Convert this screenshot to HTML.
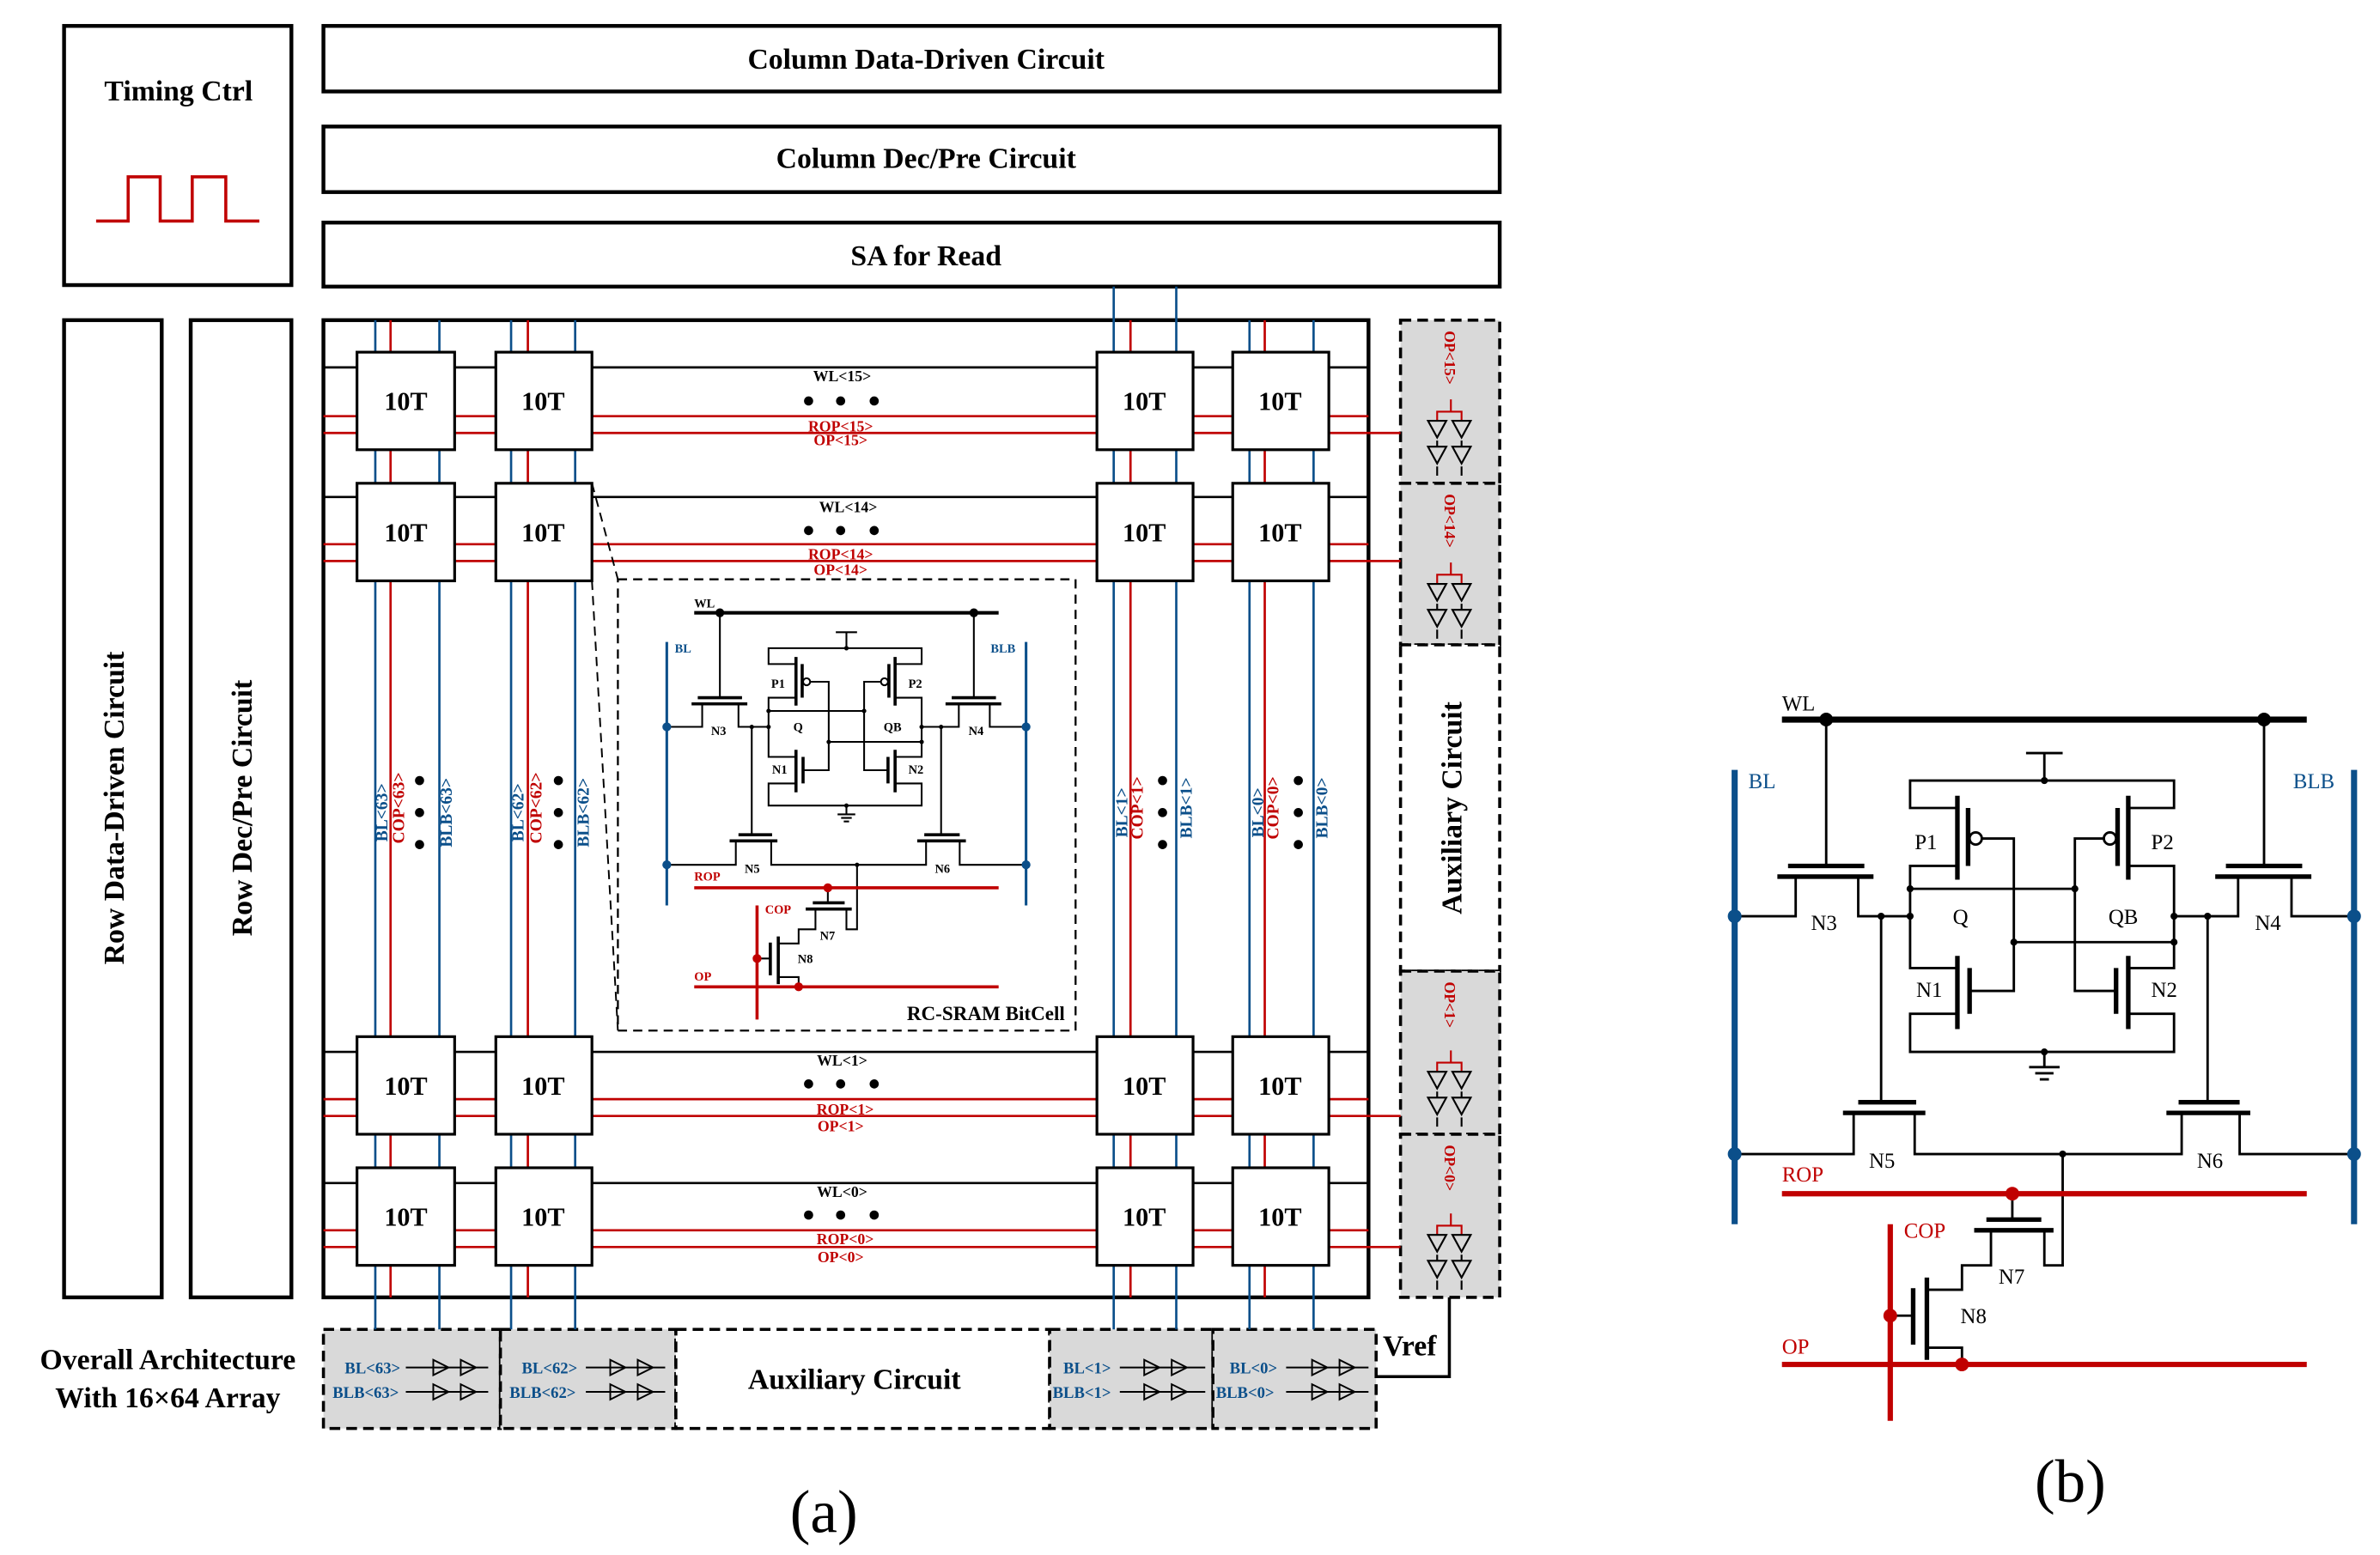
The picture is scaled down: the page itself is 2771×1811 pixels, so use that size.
<!DOCTYPE html>
<html><head><meta charset="utf-8"><style>
html,body{margin:0;padding:0;background:#fff}
svg{display:block}
text{font-family:"Liberation Serif",serif}
.b{font-weight:bold}
</style></head><body>
<svg width="2771" height="1811" viewBox="0 0 1560 1020" preserveAspectRatio="none" xmlns="http://www.w3.org/2000/svg">
<g fill="none" stroke="#000" stroke-width="2.5">
<rect x="42" y="17" width="149" height="170" fill="#fff"/>
<rect x="212" y="17" width="771" height="43"/>
<rect x="212" y="83" width="771" height="43"/>
<rect x="212" y="146" width="771" height="42"/>
<rect x="42" y="210" width="64" height="641"/>
<rect x="125" y="210" width="66" height="641"/>
<rect x="212" y="210" width="685" height="641"/>
</g>
<path d="M63 145 H84 V116 H105 V145 H126 V116 H148 V145 H170" fill="none" stroke="#c00000" stroke-width="2"/>
<path d="M902 903 H950 V851" fill="none" stroke="#000" stroke-width="2"/>

<!-- aux boxes -->
<g stroke="#000" stroke-width="2" stroke-dasharray="7,4">
<rect x="918" y="210" width="65" height="107" fill="#d9d9d9"/>
<rect x="918" y="317" width="65" height="106" fill="#d9d9d9"/>
<rect x="918" y="423" width="65" height="214" fill="#fff"/>
<rect x="918" y="637" width="65" height="107" fill="#d9d9d9"/>
<rect x="918" y="744" width="65" height="107" fill="#d9d9d9"/>
<rect x="212" y="872" width="116" height="65" fill="#d9d9d9"/>
<rect x="328" y="872" width="115" height="65" fill="#d9d9d9"/>
<rect x="443" y="872" width="245" height="65" fill="#fff"/>
<rect x="688" y="872" width="107" height="65" fill="#d9d9d9"/>
<rect x="795" y="872" width="107" height="65" fill="#d9d9d9"/>
</g>

<g class="b" font-size="19" text-anchor="middle">
<text x="117" y="66">Timing Ctrl</text>
<text x="607" y="45">Column Data-Driven Circuit</text>
<text x="607" y="110">Column Dec/Pre Circuit</text>
<text x="607" y="174">SA for Read</text>
<text transform="translate(81,530) rotate(-90)">Row Data-Driven Circuit</text>
<text transform="translate(165,530) rotate(-90)">Row Dec/Pre Circuit</text>
<text transform="translate(958,530) rotate(-90)">Auxiliary Circuit</text>
<text x="560" y="911">Auxiliary Circuit</text>
<text x="110" y="898">Overall Architecture</text>
<text x="110" y="923">With 16×64 Array</text>
<text x="924" y="889">Vref</text>
</g>

<!-- column lines -->
<g stroke-width="1.5">
<g stroke="#0b4f8a">
<line x1="246" y1="210" x2="246" y2="872"/><line x1="288" y1="210" x2="288" y2="872"/>
<line x1="335" y1="210" x2="335" y2="872"/><line x1="377" y1="210" x2="377" y2="872"/>
<line x1="730" y1="188" x2="730" y2="872"/><line x1="771" y1="188" x2="771" y2="872"/>
<line x1="819" y1="210" x2="819" y2="872"/><line x1="861" y1="210" x2="861" y2="872"/>
</g>
<g stroke="#c00000">
<line x1="256" y1="210" x2="256" y2="851"/><line x1="346" y1="210" x2="346" y2="851"/>
<line x1="741" y1="210" x2="741" y2="851"/><line x1="829" y1="210" x2="829" y2="851"/>
</g>
<g stroke="#000">
<line x1="212" y1="241" x2="897" y2="241"/><line x1="212" y1="326" x2="897" y2="326"/>
<line x1="212" y1="690" x2="897" y2="690"/><line x1="212" y1="776" x2="897" y2="776"/>
</g>
<g stroke="#c00000">
<line x1="212" y1="273" x2="897" y2="273"/><line x1="212" y1="284" x2="918" y2="284"/>
<line x1="212" y1="357" x2="897" y2="357"/><line x1="212" y1="368" x2="918" y2="368"/>
<line x1="212" y1="721" x2="897" y2="721"/><line x1="212" y1="732" x2="918" y2="732"/>
<line x1="212" y1="807" x2="897" y2="807"/><line x1="212" y1="818" x2="918" y2="818"/>
</g>
</g>

<!-- 10T cells -->
<g fill="#fff" stroke="#000" stroke-width="1.8">
<rect x="234" y="231" width="64" height="64"/><rect x="325" y="231" width="63" height="64"/><rect x="719" y="231" width="63" height="64"/><rect x="808" y="231" width="63" height="64"/>
<rect x="234" y="317" width="64" height="64"/><rect x="325" y="317" width="63" height="64"/><rect x="719" y="317" width="63" height="64"/><rect x="808" y="317" width="63" height="64"/>
<rect x="234" y="680" width="64" height="64"/><rect x="325" y="680" width="63" height="64"/><rect x="719" y="680" width="63" height="64"/><rect x="808" y="680" width="63" height="64"/>
<rect x="234" y="766" width="64" height="64"/><rect x="325" y="766" width="63" height="64"/><rect x="719" y="766" width="63" height="64"/><rect x="808" y="766" width="63" height="64"/>
</g>
<g class="b" font-size="17" text-anchor="middle">
<text x="266" y="269">10T</text><text x="356" y="269">10T</text><text x="750" y="269">10T</text><text x="839" y="269">10T</text>
<text x="266" y="355">10T</text><text x="356" y="355">10T</text><text x="750" y="355">10T</text><text x="839" y="355">10T</text>
<text x="266" y="718">10T</text><text x="356" y="718">10T</text><text x="750" y="718">10T</text><text x="839" y="718">10T</text>
<text x="266" y="804">10T</text><text x="356" y="804">10T</text><text x="750" y="804">10T</text><text x="839" y="804">10T</text>
</g>
<g class="b" font-size="10" text-anchor="middle">
<text x="552" y="250">WL&lt;15&gt;</text><text x="556" y="336">WL&lt;14&gt;</text><text x="552" y="699">WL&lt;1&gt;</text><text x="552" y="785">WL&lt;0&gt;</text>
<g fill="#c00000">
<text x="551" y="283">ROP&lt;15&gt;</text><text x="551" y="292">OP&lt;15&gt;</text>
<text x="551" y="367">ROP&lt;14&gt;</text><text x="551" y="377">OP&lt;14&gt;</text>
<text x="554" y="731">ROP&lt;1&gt;</text><text x="551" y="742">OP&lt;1&gt;</text>
<text x="554" y="816">ROP&lt;0&gt;</text><text x="551" y="828">OP&lt;0&gt;</text>
</g></g>
<g fill="#000">
<circle cx="530" cy="263" r="3"/><circle cx="551" cy="263" r="3"/><circle cx="573" cy="263" r="3"/>
<circle cx="530" cy="348" r="3"/><circle cx="551" cy="348" r="3"/><circle cx="573" cy="348" r="3"/>
<circle cx="530" cy="711" r="3"/><circle cx="551" cy="711" r="3"/><circle cx="573" cy="711" r="3"/>
<circle cx="530" cy="797" r="3"/><circle cx="551" cy="797" r="3"/><circle cx="573" cy="797" r="3"/>
<circle cx="275" cy="512" r="3"/><circle cx="275" cy="533" r="3"/><circle cx="275" cy="554" r="3"/>
<circle cx="366" cy="512" r="3"/><circle cx="366" cy="533" r="3"/><circle cx="366" cy="554" r="3"/>
<circle cx="762" cy="512" r="3"/><circle cx="762" cy="533" r="3"/><circle cx="762" cy="554" r="3"/>
<circle cx="851" cy="512" r="3"/><circle cx="851" cy="533" r="3"/><circle cx="851" cy="554" r="3"/>
</g>
<g class="b" font-size="11" text-anchor="middle">
<g fill="#0b4f8a">
<text transform="translate(254,533) rotate(-90)">BL&lt;63&gt;</text><text transform="translate(296,533) rotate(-90)">BLB&lt;63&gt;</text>
<text transform="translate(343,533) rotate(-90)">BL&lt;62&gt;</text><text transform="translate(386,533) rotate(-90)">BLB&lt;62&gt;</text>
<text transform="translate(739,533) rotate(-90)">BL&lt;1&gt;</text><text transform="translate(781,530) rotate(-90)">BLB&lt;1&gt;</text>
<text transform="translate(828,533) rotate(-90)">BL&lt;0&gt;</text><text transform="translate(870,530) rotate(-90)">BLB&lt;0&gt;</text>
</g><g fill="#c00000">
<text transform="translate(265,530) rotate(-90)">COP&lt;63&gt;</text><text transform="translate(355,530) rotate(-90)">COP&lt;62&gt;</text>
<text transform="translate(749,530) rotate(-90)">COP&lt;1&gt;</text><text transform="translate(838,530) rotate(-90)">COP&lt;0&gt;</text>
</g></g>

<g class="b" font-size="10" fill="#c00000">
<text transform="translate(947,217) rotate(90)">OP&lt;15&gt;</text>
<text transform="translate(947,324) rotate(90)">OP&lt;14&gt;</text>
<text transform="translate(947,644) rotate(90)">OP&lt;1&gt;</text>
<text transform="translate(947,751) rotate(90)">OP&lt;0&gt;</text>
</g>
<g fill="none" stroke-width="1.2">
<g><path d="M951 262 V270 M942 276 V270 H958 V276" stroke="#c00000"/>
<path d="M936 276 H948 L942 287 Z M952 276 H964 L958 287 Z M936 293 H948 L942 304 Z M952 293 H964 L958 304 Z M942 289 V293 M958 289 V293 M942 306 V312 M958 306 V312" stroke="#000"/></g>
<g transform="translate(0,107)"><path d="M951 262 V270 M942 276 V270 H958 V276" stroke="#c00000"/>
<path d="M936 276 H948 L942 287 Z M952 276 H964 L958 287 Z M936 293 H948 L942 304 Z M952 293 H964 L958 304 Z M942 289 V293 M958 289 V293 M942 306 V312 M958 306 V312" stroke="#000"/></g>
<g transform="translate(0,427)"><path d="M951 262 V270 M942 276 V270 H958 V276" stroke="#c00000"/>
<path d="M936 276 H948 L942 287 Z M952 276 H964 L958 287 Z M936 293 H948 L942 304 Z M952 293 H964 L958 304 Z M942 289 V293 M958 289 V293 M942 306 V312 M958 306 V312" stroke="#000"/></g>
<g transform="translate(0,534)"><path d="M951 262 V270 M942 276 V270 H958 V276" stroke="#c00000"/>
<path d="M936 276 H948 L942 287 Z M952 276 H964 L958 287 Z M936 293 H948 L942 304 Z M952 293 H964 L958 304 Z M942 289 V293 M958 289 V293 M942 306 V312 M958 306 V312" stroke="#000"/></g>
</g>

<g class="b" font-size="10.5" fill="#0b4f8a">
<text x="226" y="901">BL&lt;63&gt;</text><text x="218" y="917">BLB&lt;63&gt;</text>
<text x="342" y="901">BL&lt;62&gt;</text><text x="334" y="917">BLB&lt;62&gt;</text>
<text x="697" y="901">BL&lt;1&gt;</text><text x="690" y="917">BLB&lt;1&gt;</text>
<text x="806" y="901">BL&lt;0&gt;</text><text x="797" y="917">BLB&lt;0&gt;</text>
</g>
<g fill="none" stroke="#000" stroke-width="1.1">
<path d="M266 897 H320 M266 913 H320 M284 892 V902 L294 897 Z M302 892 V902 L312 897 Z M284 908 V918 L294 913 Z M302 908 V918 L312 913 Z"/>
<path d="M384 897 H436 M384 913 H436 M400 892 V902 L410 897 Z M418 892 V902 L428 897 Z M400 908 V918 L410 913 Z M418 908 V918 L428 913 Z"/>
<path d="M734 897 H790 M734 913 H790 M750 892 V902 L760 897 Z M768 892 V902 L778 897 Z M750 908 V918 L760 913 Z M768 908 V918 L778 913 Z"/>
<path d="M843 897 H897 M843 913 H897 M860 892 V902 L870 897 Z M878 892 V902 L888 897 Z M860 908 V918 L870 913 Z M878 908 V918 L888 913 Z"/>
</g>

<!-- inset -->
<rect x="405" y="380" width="300" height="296" fill="#fff" stroke="#000" stroke-width="1.3" stroke-dasharray="6,4"/>
<path d="M388 317 L405 380 M388 381 L405 676" stroke="#000" stroke-width="1.1" stroke-dasharray="6,4" fill="none"/>
<text x="698" y="669" class="b" font-size="13" text-anchor="end">RC-SRAM BitCell</text>

<g transform="translate(-222.4,128.2) scale(0.58)" class="b">
<g stroke="#000" stroke-width="2" fill="none">
<line x1="1168" y1="472" x2="1512" y2="472" stroke-width="4"/>
<path d="M1197 472 V568 M1484 472 V568"/>
<path d="M1172 568 H1222 M1165 575 H1228 M1459 568 H1509 M1452 575 H1515" stroke-width="3.5"/>
<path d="M1137 601 H1177 V575 M1218 575 V601 H1252 M1543 601 H1502 V575 M1467 575 V601 H1425"/>
<path d="M1283 530 H1252 V512 H1425 V530 H1395 M1283 568 H1252 V635 H1283 M1283 665 H1252 V690 H1425 V665 H1395 M1395 568 H1425 V635 H1395"/>
<path d="M1283 522 V577 M1395 522 V577 M1283 627 V675 M1395 627 V675 M1290 530 V568 M1388 530 V568 M1291 635 V665 M1387 635 V665" stroke-width="3.5"/>
<path d="M1299 550 H1320 V650 H1291 M1379 550 H1360 V650 H1387 M1252 583 H1360 M1320 618 H1425"/>
<path d="M1340 512 V494 M1328 494 H1352 M1340 690 V700 M1330 700 H1350 M1334 704 H1346 M1337 708 H1343"/>
<path d="M1233 601 V723 M1447 601 V723 M1137 757 H1215 V730 M1255 730 V757 H1430 V730 M1468 730 V757 H1543 M1352 757 V830 H1340 V807 M1305 807 V830 H1286 V846 H1263 M1319 783 V800 M1254 863 H1239 M1263 884 H1286 V895"/>
<path d="M1218 723 H1256 M1208 730 H1262 M1428 723 H1468 M1420 730 H1475 M1302 800 H1338 M1294 807 H1346 M1263 838 V892 M1254 845 V882" stroke-width="3.5"/>
</g>
<circle cx="1295" cy="550" r="4" fill="#fff" stroke="#000" stroke-width="2"/>
<circle cx="1383" cy="550" r="4" fill="#fff" stroke="#000" stroke-width="2"/>
<g fill="#000"><circle cx="1197" cy="472" r="5"/><circle cx="1484" cy="472" r="5"/>
<circle cx="1340" cy="512" r="2.5"/><circle cx="1340" cy="690" r="2.5"/><circle cx="1252" cy="583" r="2.5"/><circle cx="1360" cy="583" r="2.5"/><circle cx="1320" cy="618" r="2.5"/><circle cx="1425" cy="618" r="2.5"/><circle cx="1252" cy="601" r="2.5"/><circle cx="1425" cy="601" r="2.5"/><circle cx="1233" cy="601" r="2.5"/><circle cx="1447" cy="601" r="2.5"/><circle cx="1352" cy="757" r="2.5"/></g>
<g stroke="#c00000" stroke-width="3.5"><line x1="1168" y1="783" x2="1512" y2="783"/><line x1="1168" y1="895" x2="1512" y2="895"/><line x1="1239" y1="803" x2="1239" y2="932"/></g>
<g fill="#c00000"><circle cx="1319" cy="783" r="5"/><circle cx="1239" cy="863" r="5"/><circle cx="1286" cy="895" r="5"/></g>
<g stroke="#0b4f8a" stroke-width="3"><line x1="1137" y1="505" x2="1137" y2="803"/><line x1="1543" y1="505" x2="1543" y2="803"/></g>
<g fill="#0b4f8a"><circle cx="1137" cy="601" r="5"/><circle cx="1137" cy="757" r="5"/><circle cx="1543" cy="601" r="5"/><circle cx="1543" cy="757" r="5"/></g>
<g font-size="14">
<text x="1168" y="466">WL</text><text x="1146" y="517" fill="#0b4f8a">BL</text><text x="1503" y="517" fill="#0b4f8a">BLB</text>
<text x="1255" y="557">P1</text><text x="1410" y="557">P2</text><text x="1280" y="606">Q</text><text x="1382" y="606">QB</text>
<text x="1187" y="610">N3</text><text x="1478" y="610">N4</text><text x="1256" y="654">N1</text><text x="1410" y="654">N2</text>
<text x="1225" y="766">N5</text><text x="1440" y="766">N6</text><text x="1168" y="775" fill="#c00000">ROP</text><text x="1248" y="812" fill="#c00000">COP</text>
<text x="1310" y="842">N7</text><text x="1285" y="868">N8</text><text x="1168" y="888" fill="#c00000">OP</text>
</g>
</g>

<!-- (b) -->
<g>
<g stroke="#000" stroke-width="1.6" fill="none">
<line x1="1168" y1="472" x2="1512" y2="472" stroke-width="4"/>
<path d="M1197 472 V568 M1484 472 V568"/>
<path d="M1172 568 H1222 M1165 575 H1228 M1459 568 H1509 M1452 575 H1515" stroke-width="3"/>
<path d="M1137 601 H1177 V575 M1218 575 V601 H1252 M1543 601 H1502 V575 M1467 575 V601 H1425"/>
<path d="M1283 530 H1252 V512 H1425 V530 H1395 M1283 568 H1252 V635 H1283 M1283 665 H1252 V690 H1425 V665 H1395 M1395 568 H1425 V635 H1395"/>
<path d="M1283 522 V577 M1395 522 V577 M1283 627 V675 M1395 627 V675 M1290 530 V568 M1388 530 V568 M1291 635 V665 M1387 635 V665" stroke-width="3"/>
<path d="M1299 550 H1320 V650 H1291 M1379 550 H1360 V650 H1387 M1252 583 H1360 M1320 618 H1425"/>
<path d="M1340 512 V494 M1328 494 H1352 M1340 690 V700 M1330 700 H1350 M1334 704 H1346 M1337 708 H1343"/>
<path d="M1233 601 V723 M1447 601 V723 M1137 757 H1215 V730 M1255 730 V757 H1430 V730 M1468 730 V757 H1543 M1352 757 V830 H1340 V807 M1305 807 V830 H1286 V846 H1263 M1319 783 V800 M1254 863 H1239 M1263 884 H1286 V895"/>
<path d="M1218 723 H1256 M1208 730 H1262 M1428 723 H1468 M1420 730 H1475 M1302 800 H1338 M1294 807 H1346 M1263 838 V892 M1254 845 V882" stroke-width="3"/>
</g>
<circle cx="1295" cy="550" r="4" fill="#fff" stroke="#000" stroke-width="1.6"/>
<circle cx="1383" cy="550" r="4" fill="#fff" stroke="#000" stroke-width="1.6"/>
<g fill="#000"><circle cx="1197" cy="472" r="4.5"/><circle cx="1484" cy="472" r="4.5"/>
<circle cx="1340" cy="512" r="2.3"/><circle cx="1340" cy="690" r="2.3"/><circle cx="1252" cy="583" r="2.3"/><circle cx="1360" cy="583" r="2.3"/><circle cx="1320" cy="618" r="2.3"/><circle cx="1425" cy="618" r="2.3"/><circle cx="1252" cy="601" r="2.3"/><circle cx="1425" cy="601" r="2.3"/><circle cx="1233" cy="601" r="2.3"/><circle cx="1447" cy="601" r="2.3"/><circle cx="1352" cy="757" r="2.3"/></g>
<g stroke="#c00000" stroke-width="3.5"><line x1="1168" y1="783" x2="1512" y2="783"/><line x1="1168" y1="895" x2="1512" y2="895"/><line x1="1239" y1="803" x2="1239" y2="932"/></g>
<g fill="#c00000"><circle cx="1319" cy="783" r="4.5"/><circle cx="1239" cy="863" r="4.5"/><circle cx="1286" cy="895" r="4.5"/></g>
<g stroke="#0b4f8a" stroke-width="4"><line x1="1137" y1="505" x2="1137" y2="803"/><line x1="1543" y1="505" x2="1543" y2="803"/></g>
<g fill="#0b4f8a"><circle cx="1137" cy="601" r="4.5"/><circle cx="1137" cy="757" r="4.5"/><circle cx="1543" cy="601" r="4.5"/><circle cx="1543" cy="757" r="4.5"/></g>
<g font-size="14">
<text x="1168" y="466">WL</text><text x="1146" y="517" fill="#0b4f8a">BL</text><text x="1503" y="517" fill="#0b4f8a">BLB</text>
<text x="1255" y="557">P1</text><text x="1410" y="557">P2</text><text x="1280" y="606">Q</text><text x="1382" y="606">QB</text>
<text x="1187" y="610">N3</text><text x="1478" y="610">N4</text><text x="1256" y="654">N1</text><text x="1410" y="654">N2</text>
<text x="1225" y="766">N5</text><text x="1440" y="766">N6</text><text x="1168" y="775" fill="#c00000">ROP</text><text x="1248" y="812" fill="#c00000">COP</text>
<text x="1310" y="842">N7</text><text x="1285" y="868">N8</text><text x="1168" y="888" fill="#c00000">OP</text>
</g>
</g>

<text x="540" y="1005" font-size="40" text-anchor="middle">(a)</text>
<text x="1357" y="985" font-size="40" text-anchor="middle">(b)</text>
</svg>
</body></html>
